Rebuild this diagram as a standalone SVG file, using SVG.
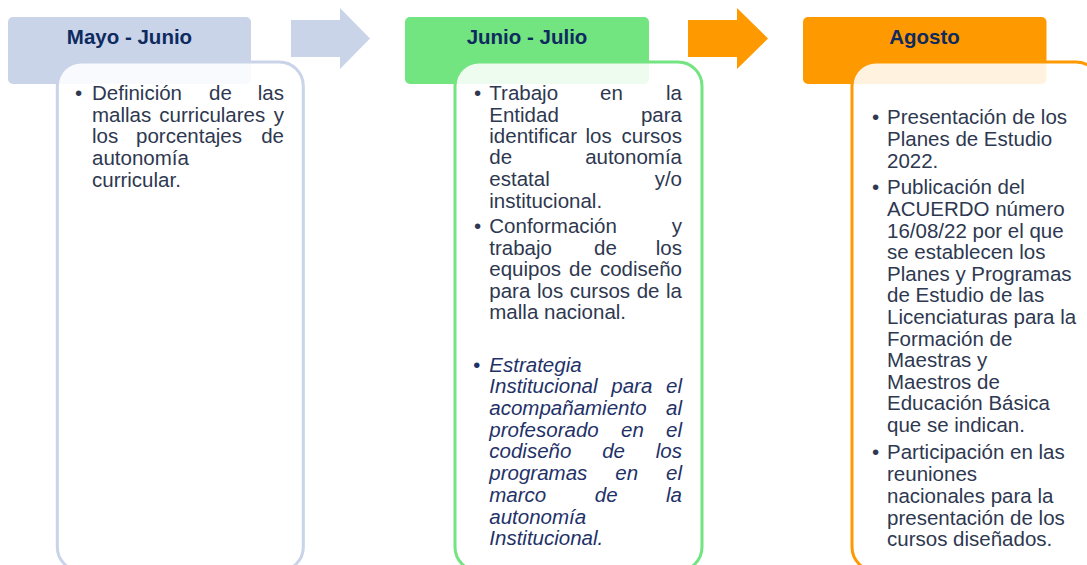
<svg xmlns="http://www.w3.org/2000/svg" width="1087" height="565" viewBox="0 0 1087 565">
<style>
.hd{font-family:"Liberation Sans",Arial,sans-serif;font-weight:bold;font-size:20.5px;fill:#0e2a5f;text-anchor:middle}
.t{font-family:"Liberation Sans",Arial,sans-serif;font-size:20.5px;fill:#2e3850}
.i{font-family:"Liberation Sans",Arial,sans-serif;font-size:20.5px;font-style:italic;fill:#1f3268}
.e{text-anchor:end}
.card{fill:#ffffff;fill-opacity:0.88;stroke-width:3}
</style>
<rect width="1087" height="565" fill="#ffffff"/>
<g id="connectors">
<polygon points="291,20 340,20 340,8 370,38.5 340,69 340,57 291,57" fill="#c9d4e8"/>
<polygon points="688,20 737,20 737,8 768,38.5 737,69 737,57 688,57" fill="#ff9900"/>
</g>
<g id="node-mayo-junio">
<rect x="8" y="17" width="243" height="67" rx="5" fill="#c9d4e8"/>
<text class="hd" x="129.5" y="44">Mayo - Junio</text>
<rect class="card" x="57.3" y="62" width="246" height="509" rx="24" stroke="#c9d4e8"/>
<text class="t" x="75" y="100">•</text>
<text class="t" x="92" y="100">Definición</text><text class="t" x="209" y="100">de</text><text class="t e" x="284" y="100">las</text>
<text class="t" x="92" y="121.6">mallas</text><text class="t" x="159.3" y="121.6">curriculares</text><text class="t e" x="284" y="121.6">y</text>
<text class="t" x="92" y="143.2">los</text><text class="t" x="136" y="143.2">porcentajes</text><text class="t e" x="284" y="143.2">de</text>
<text class="t" x="92" y="164.8">autonomía</text>
<text class="t" x="92" y="186.5">curricular.</text>
</g>
<g id="node-junio-julio">
<rect x="405" y="17" width="244" height="67" rx="5" fill="#72e480"/>
<text class="hd" x="527" y="44">Junio - Julio</text>
<rect class="card" x="455" y="62" width="247" height="509" rx="24" stroke="#72e480"/>
<text class="t" x="474" y="100">•</text>
<text class="t" x="489.3" y="100">Trabajo</text><text class="t" x="600" y="100">en</text><text class="t e" x="682" y="100">la</text>
<text class="t" x="489.3" y="121.5">Entidad</text><text class="t e" x="682" y="121.5">para</text>
<text class="t" x="489.3" y="143">identificar</text><text class="t" x="585.5" y="143">los</text><text class="t e" x="682" y="143">cursos</text>
<text class="t" x="489.3" y="164.3">de</text><text class="t e" x="682" y="164.3">autonomía</text>
<text class="t" x="489.3" y="186">estatal</text><text class="t e" x="682" y="186">y/o</text>
<text class="t" x="489.3" y="207.5">institucional.</text>
<text class="t" x="474" y="233.3">•</text>
<text class="t" x="489.3" y="233.3">Conformación</text><text class="t e" x="682" y="233.3">y</text>
<text class="t" x="489.3" y="254.5">trabajo</text><text class="t" x="594" y="254.5">de</text><text class="t e" x="682" y="254.5">los</text>
<text class="t" x="489.3" y="276.2">equipos</text><text class="t" x="569" y="276.2">de</text><text class="t e" x="682" y="276.2">codiseño</text>
<text class="t" x="489.3" y="297.8">para</text><text class="t" x="537" y="297.8">los</text><text class="t" x="569.7" y="297.8">cursos</text><text class="t" x="636.7" y="297.8">de</text><text class="t e" x="682" y="297.8">la</text>
<text class="t" x="489.3" y="319.4">malla nacional.</text>
<text class="i" x="473" y="371.7">•</text>
<text class="i" x="489.3" y="371.7">Estrategia</text>
<text class="i" x="489.3" y="393.3">Institucional</text><text class="i" x="611.3" y="393.3">para</text><text class="i e" x="682" y="393.3">el</text>
<text class="i" x="489.3" y="415">acompañamiento</text><text class="i e" x="682" y="415">al</text>
<text class="i" x="489.3" y="436.7">profesorado</text><text class="i" x="621" y="436.7">en</text><text class="i e" x="682" y="436.7">el</text>
<text class="i" x="489.3" y="458.3">codiseño</text><text class="i" x="602.2" y="458.3">de</text><text class="i e" x="682" y="458.3">los</text>
<text class="i" x="489.3" y="480">programas</text><text class="i" x="615.3" y="480">en</text><text class="i e" x="682" y="480">el</text>
<text class="i" x="489.3" y="502">marco</text><text class="i" x="594.8" y="502">de</text><text class="i e" x="682" y="502">la</text>
<text class="i" x="489.3" y="523.5">autonomía</text>
<text class="i" x="489.3" y="545">Institucional.</text>
</g>
<g id="node-agosto">
<rect x="803" y="17" width="243.5" height="67" rx="5" fill="#ff9900"/>
<text class="hd" x="924.5" y="44">Agosto</text>
<rect class="card" x="852" y="62" width="248" height="509" rx="24" stroke="#ff9900"/>
<text class="t" x="872" y="124">•</text>
<text class="t" x="887" y="124">Presentación de los</text>
<text class="t" x="887" y="146">Planes de Estudio</text>
<text class="t" x="887" y="168">2022.</text>
<text class="t" x="872" y="194.3">•</text>
<text class="t" x="887" y="194.3">Publicación del</text>
<text class="t" x="887" y="216">ACUERDO número</text>
<text class="t" x="887" y="237.6">16/08/22 por el que</text>
<text class="t" x="887" y="259.2">se establecen los</text>
<text class="t" x="887" y="280.8">Planes y Programas</text>
<text class="t" x="887" y="302.4">de Estudio de las</text>
<text class="t" x="887" y="324">Licenciaturas para la</text>
<text class="t" x="887" y="345.6">Formación de</text>
<text class="t" x="887" y="367.2">Maestras y</text>
<text class="t" x="887" y="388.8">Maestros de</text>
<text class="t" x="887" y="410.4">Educación Básica</text>
<text class="t" x="887" y="432">que se indican.</text>
<text class="t" x="872" y="459">•</text>
<text class="t" x="887" y="459">Participación en las</text>
<text class="t" x="887" y="481.2">reuniones</text>
<text class="t" x="887" y="503">nacionales para la</text>
<text class="t" x="887" y="524.5">presentación de los</text>
<text class="t" x="887" y="545.8">cursos diseñados.</text>
</g>
</svg>
